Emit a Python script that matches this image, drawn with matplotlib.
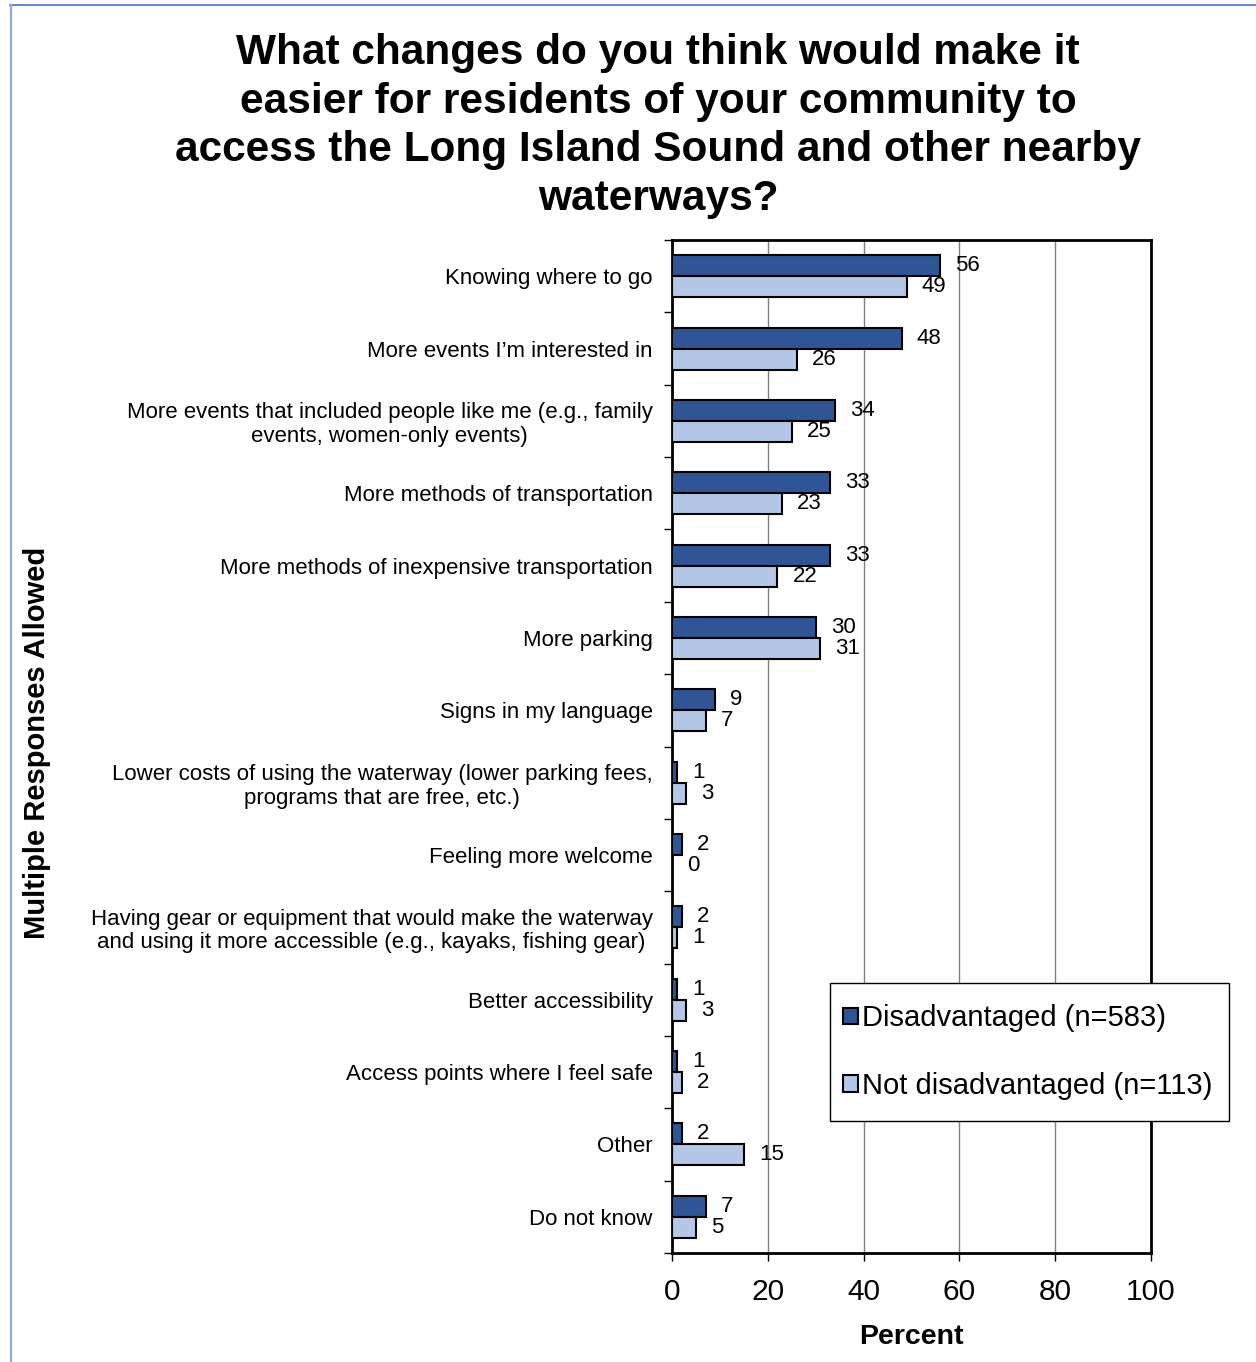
import matplotlib.pyplot as plt
import numpy as np
from matplotlib.lines import Line2D
from matplotlib.patches import Patch, Rectangle

plt.rcParams['font.family'] = ['Liberation Sans', 'DejaVu Sans']

categories = [
    'Knowing where to go',
    'More events I\u2019m interested in',
    'More events that included people like me (e.g., family\nevents, women-only events)',
    'More methods of transportation',
    'More methods of inexpensive transportation',
    'More parking',
    'Signs in my language',
    'Lower costs of using the waterway (lower parking fees,\nprograms that are free, etc.)',
    'Feeling more welcome',
    'Having gear or equipment that would make the waterway\nand using it more accessible (e.g., kayaks, fishing gear)',
    'Better accessibility',
    'Access points where I feel safe',
    'Other',
    'Do not know',
]
disadvantaged = [56, 48, 34, 33, 33, 30, 9, 1, 2, 2, 1, 1, 2, 7]
not_disadvantaged = [49, 26, 25, 23, 22, 31, 7, 3, 0, 1, 3, 2, 15, 5]
series_names = ['Disadvantaged (n=583)', 'Not disadvantaged (n=113)']
x_ticks = [0, 20, 40, 60, 80, 100]

dark = '#2F5597'
light = '#B4C7E7'

W, H = 1256, 1362
fig = plt.figure(figsize=(W / 100, H / 100), dpi=100)
ax = fig.add_axes([672 / W, 1 - 1253 / H, (1151 - 672) / W, (1253 - 240) / H])

y = np.arange(len(categories))
h = 0.29
ax.barh(y - h / 2, disadvantaged, height=h, color=dark, edgecolor='black', linewidth=1.5, zorder=3)
ax.barh(y + h / 2, not_disadvantaged, height=h, color=light, edgecolor='black', linewidth=1.5, zorder=3)

# value labels
for i in range(len(categories)):
    ax.annotate(str(disadvantaged[i]), (disadvantaged[i], y[i] - h / 2), xytext=(15, 0),
                textcoords='offset pixels', ha='left', va='center', fontsize=16)
    ax.annotate(str(not_disadvantaged[i]), (not_disadvantaged[i], y[i] + h / 2), xytext=(15, 0),
                textcoords='offset pixels', ha='left', va='center', fontsize=16)

ax.set_xlim(0, 100)
ax.set_ylim(len(categories) - 0.5, -0.5)
ax.set_xticks(x_ticks)
ax.set_xticklabels([str(t) for t in x_ticks], fontsize=21.5)
ax.tick_params(axis='x', length=6, width=1, pad=12)
ax.set_yticks(y)
ax.set_yticklabels(categories, fontsize=16, linespacing=1.15)
for lbl in ax.get_yticklabels():
    lbl.set_multialignment('center')
ax.tick_params(axis='y', length=0, pad=14)
ax.set_yticks(np.arange(len(categories) + 1) - 0.5, minor=True)
ax.tick_params(axis='y', which='minor', length=6, width=1)
ax.xaxis.grid(True, color='#808080', linewidth=1)
ax.set_axisbelow(True)
for s in ax.spines.values():
    s.set_linewidth(2)
    s.set_color('black')

ax.set_xlabel('Percent', fontsize=20.5, fontweight='bold', labelpad=13)

fig.text(37 / W, 1 - 743 / H, 'Multiple Responses Allowed', rotation=90, ha='center', va='center',
         fontsize=21, fontweight='bold')

fig.text(658 / W, 1 - 126 / H,
         'What changes do you think would make it\neasier for residents of your community to\n'
         'access the Long Island Sound and other nearby\nwaterways?',
         ha='center', va='center', fontsize=30.5, fontweight='bold', linespacing=1.29)

# legend: frame drawn separately to match the box size
fig.add_artist(Rectangle((830 / W, 1 - 1121 / H), (1229 - 830) / W, (1121 - 983) / H,
                         transform=fig.transFigure, facecolor='white', edgecolor='black',
                         linewidth=1, zorder=4))
handles = [Patch(facecolor=dark, edgecolor='black', linewidth=1.5),
           Patch(facecolor=light, edgecolor='black', linewidth=1.5)]
leg = fig.legend(handles, series_names, loc='center left', bbox_to_anchor=(843 / W, 1 - 1052 / H),
                 fontsize=21, frameon=False, handlelength=0.5, handleheight=0.5,
                 handletextpad=0.15, labelspacing=1.35, borderpad=0, borderaxespad=0)
leg.set_zorder(5)

# page border lines
fig.add_artist(Line2D([10 / W, 1], [1 - 5 / H, 1 - 5 / H], color='#4472C4', linewidth=1.2))
fig.add_artist(Line2D([11 / W, 11 / W], [0, 1 - 5 / H], color='#8EA9DB', linewidth=1.6))

fig.savefig('out.png', dpi=100)
